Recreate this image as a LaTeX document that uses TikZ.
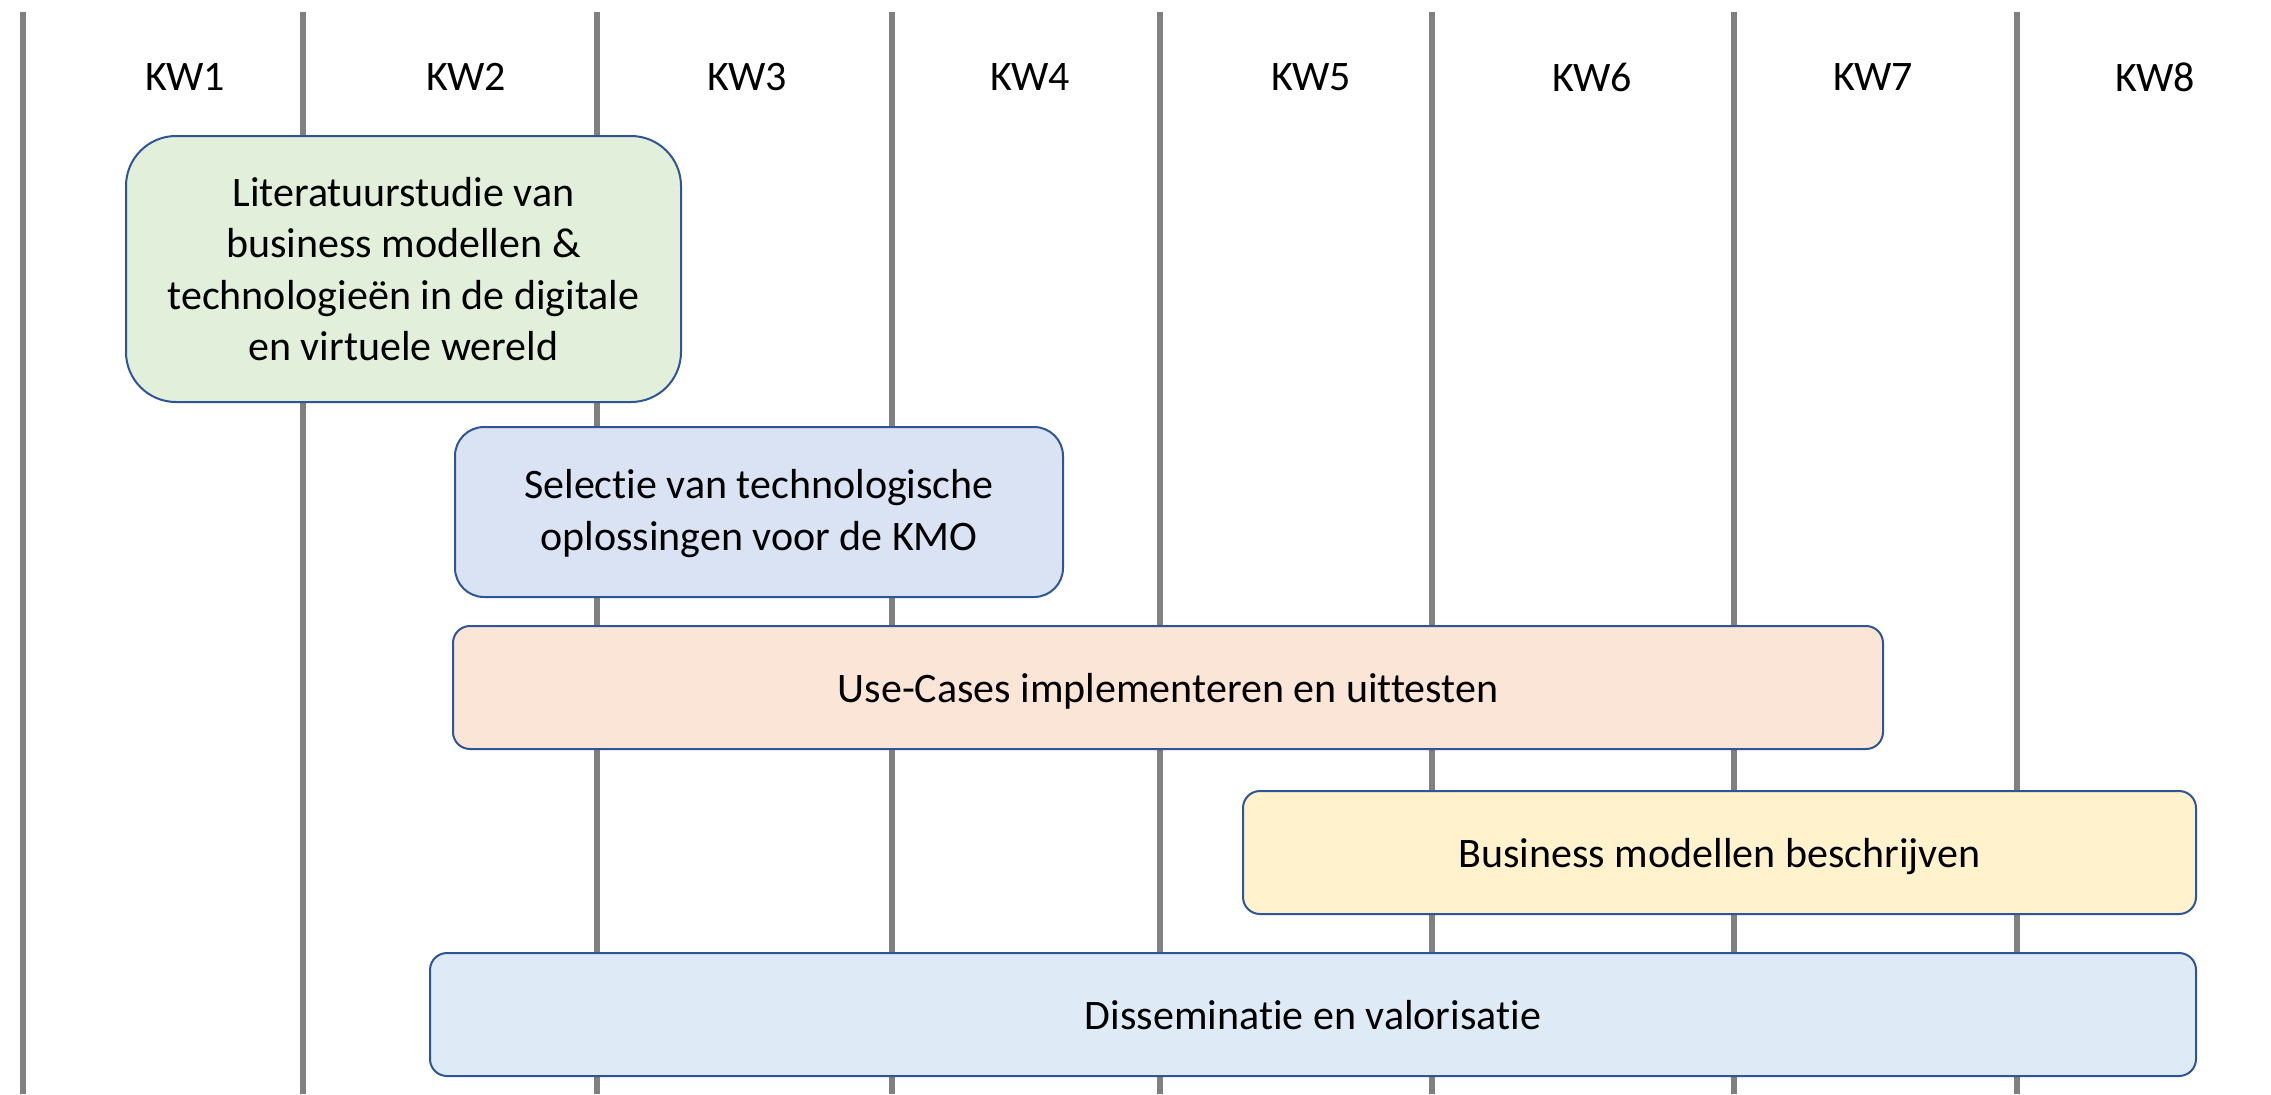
\documentclass[tikz,border=0pt]{standalone}
\usepackage{fontspec}
\setmainfont[Ligatures={NoCommon}]{Carlito}
\definecolor{gridgray}{HTML}{808080}
\definecolor{boxborder}{HTML}{2F5597}
\definecolor{cgreen}{HTML}{E2EFDA}
\definecolor{cblue}{HTML}{DAE3F3}
\definecolor{cpeach}{HTML}{FBE5D6}
\definecolor{cyellow}{HTML}{FFF2CC}
\definecolor{clblue}{HTML}{DEEBF7}
\begin{document}
\begin{tikzpicture}[x=0.5pt,y=-0.5pt,
  week/.style={gridgray, line width=3pt},
  kwlabel/.style={font=\fontsize{21pt}{25.8pt}\selectfont, inner sep=0pt},
  task/.style={draw=boxborder, line width=1pt, inner sep=0pt, align=center,
    font=\fontsize{21pt}{25.8pt}\selectfont},
  oneline/.style={task, rounded corners=8.5pt, minimum height=61.5pt,
    text height=16.5pt, text depth=1.5pt},
]
\useasboundingbox (0,0) rectangle (2271,1094);
\fill[white] (0,0) rectangle (2271,1094);
% week grid lines
\foreach \x [count=\i] in {23,303,597,892,1160,1432,1734,2017}{
  \coordinate (t\i) at (\x,12);
  \coordinate (b\i) at (\x,1094);
  \draw[week] (t\i) -- (b\i);
}
% week labels
\foreach \x [count=\i] in {185,466,747,1030,1311,1592,1873,2155}{
  \node[kwlabel] (kw\i) at (\x,77) {KW\i};
}
% tasks
\node[task, fill=cgreen, rounded corners=25pt, minimum width=277.5pt, minimum height=133pt]
  (lit) at (403.5,269) {Literatuurstudie van\\business modellen \&\\technologieën in de digitale\\en virtuele wereld};
\node[task, fill=cblue, rounded corners=14.5pt, minimum width=304pt, minimum height=85pt]
  (sel) at (759,512) {\rule{0pt}{16pt}Selectie van technologische\\oplossingen voor de KMO};
\node[oneline, fill=cpeach, minimum width=715pt]
  (use) at (1168,687.5) {Use-Cases implementeren en uittesten};
\node[oneline, fill=cyellow, minimum width=476.5pt]
  (bus) at (1719.5,852.5) {Business modellen beschrijven};
\node[oneline, fill=clblue, minimum width=883pt]
  (dis) at (1313,1014.5) {Disseminatie en valorisatie};
\end{tikzpicture}
\end{document}
